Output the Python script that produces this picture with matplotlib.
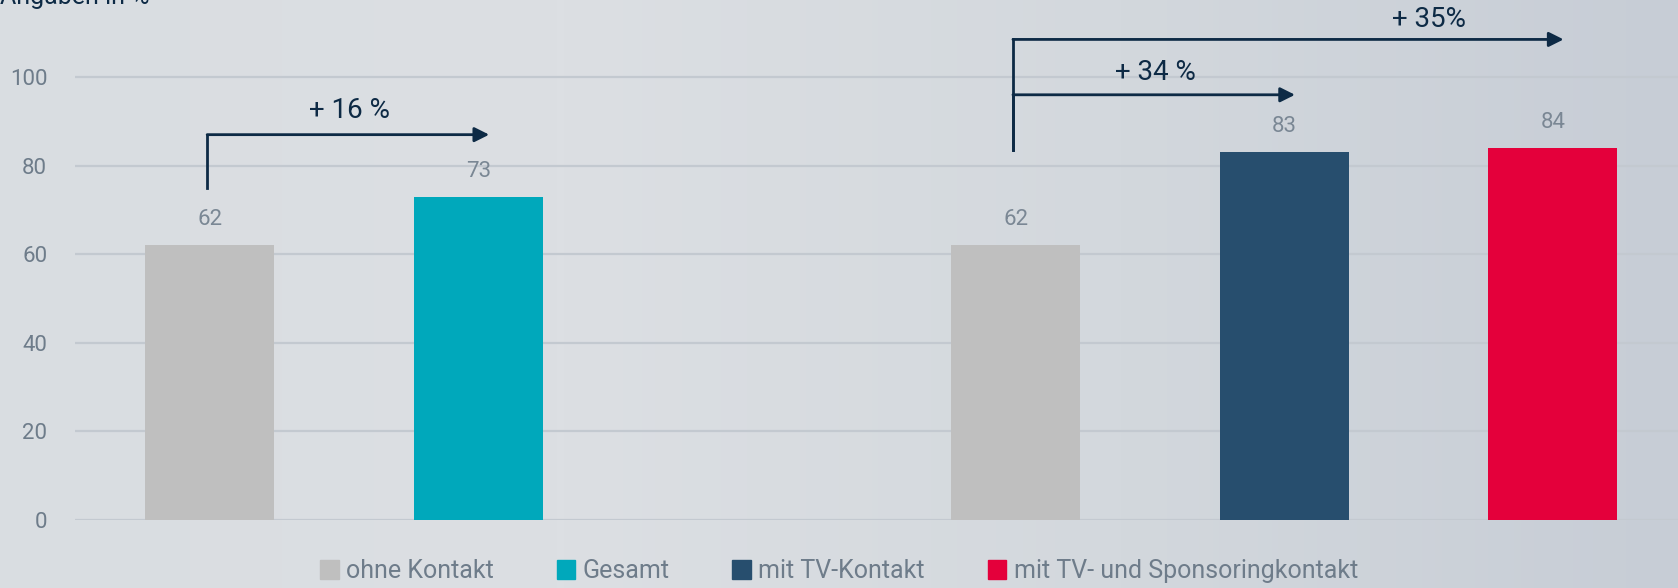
import numpy as np
import matplotlib.pyplot as plt
from matplotlib.patches import Patch
from matplotlib.colors import LinearSegmentedColormap

plt.rcParams['font.family'] = ['Roboto', 'DejaVu Sans']

# data
series = ["ohne Kontakt", "Gesamt", "ohne Kontakt", "mit TV-Kontakt", "mit TV- und Sponsoringkontakt"]
positions = [0, 1, 3, 4, 5]
values = [62, 73, 62, 83, 84]
legend_labels = ["ohne Kontakt", "Gesamt", "mit TV-Kontakt", "mit TV- und Sponsoringkontakt"]
colors = {"ohne Kontakt": "#bfbfbf", "Gesamt": "#00a8bb",
          "mit TV-Kontakt": "#274e6e", "mit TV- und Sponsoringkontakt": "#e4003b"}
y_ticks = [0, 20, 40, 60, 80, 100]

# growth arrows: (from position, to position, level, label, label x, label level)
arrows = [(0, 1, 87, "+ 16 %", 0.52, 92.5),
          (3, 4, 96, "+ 34 %", 3.52, 101),
          (3, 5, 108.5, "+ 35%", 4.54, 113)]
arrow_start = {0: 75, 3: 83.5}

dark = "#0d2a45"
grey_txt = "#6e7c8a"

fig = plt.figure(figsize=(16.78, 5.88), dpi=100)

# background gradient
bg = fig.add_axes([0, 0, 1, 1], zorder=-10)
cmap = LinearSegmentedColormap.from_list("bg", ["#d9dde1", "#dcdfe3", "#d3d8dd", "#c7cdd6"])
bg.imshow(np.linspace(0, 1, 256)[None, :], aspect="auto", cmap=cmap, extent=[0, 1, 0, 1])
bg.axis("off")

ax = fig.add_axes([0.0447, 0.1156, 0.9553, 0.8844])
ax.patch.set_alpha(0)
ax.set_xlim(-0.502, 5.466)
ax.set_ylim(0, 117.4)

ax.bar(positions, values, width=0.48, color=[colors[s] for s in series], zorder=3)
for p, v in zip(positions, values):
    ax.text(p, v + 3.4, f"{v}", ha="center", va="bottom", fontsize=16, color="#7a8794")

ax.set_yticks(y_ticks)
ax.set_yticklabels([str(t) for t in y_ticks], fontsize=16, color=grey_txt)
ax.tick_params(axis="y", length=0, pad=20)
ax.set_xticks([])
ax.grid(axis="y", color="#c3c9d0", linewidth=1.6, zorder=0)
for s in ["top", "right", "left", "bottom"]:
    ax.spines[s].set_visible(False)

for x0, x1, lvl, label, lx, ly in arrows:
    ax.plot([x0 - 0.01, x0 - 0.01], [arrow_start[x0], lvl], color=dark, lw=2, zorder=4)
    ax.annotate("", xy=(x1 + 0.04, lvl), xytext=(x0 - 0.01, lvl),
                arrowprops=dict(arrowstyle="-|>", color=dark, lw=2, mutation_scale=22,
                                shrinkA=0, shrinkB=0), zorder=4)
    ax.text(lx, ly, label, ha="center", va="center", fontsize=20, color=dark)

fig.text(0.0, 1 - 4 / 588, "Angaben in %", ha="left", va="baseline", fontsize=18, color=dark)

handles = [Patch(color=colors[l]) for l in legend_labels]
fig.legend(handles, legend_labels, loc="lower center", bbox_to_anchor=(0.5, -0.03),
           ncol=4, frameon=False, fontsize=18, handlelength=0.75, handleheight=0.75,
           handletextpad=0.3, columnspacing=2.5, labelcolor=grey_txt)

fig.savefig("out.png", dpi=100)
